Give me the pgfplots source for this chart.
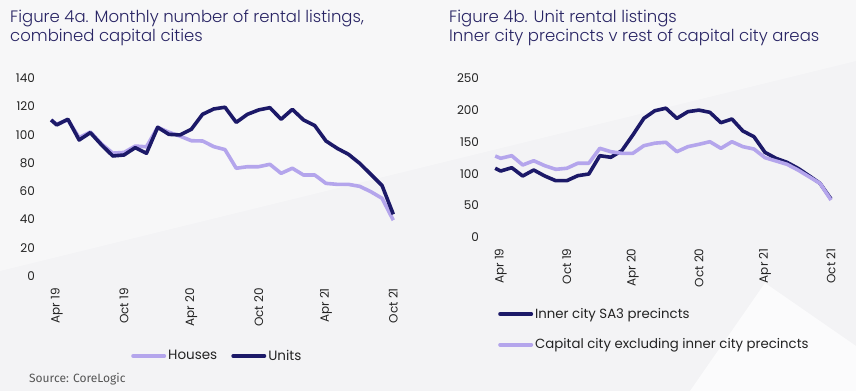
\documentclass[border=0pt]{standalone}
\usepackage{fontspec}
\setmainfont{Poppins}
\newfontfamily\titlefont{Poppins Light}
\newfontfamily\srcfont{Fira Sans}
\usepackage{pgfplots}
\pgfplotsset{compat=1.18}
\definecolor{bg}{RGB}{243,243,245}
\definecolor{navy}{RGB}{28,25,104}
\definecolor{lilac}{RGB}{180,165,236}
\definecolor{titlec}{RGB}{40,36,100}
\definecolor{txt}{RGB}{35,35,35}

\pgfplotstableread{
x houses units
-0.5 110.5 110.5
0 107.5 107
1 110.5 111
2 98 96.3
3 102 101.5
4 93.5 92.8
5 87 85
6 87.5 85.7
7 92 90.9
8 91.5 86.9
9 105.3 105.3
10 101.8 100.3
11 99 99.9
12 95.8 103.9
13 95.6 114.5
14 91.6 118.3
15 89.5 119.5
16 76.3 108.8
17 77.4 114.5
18 77.4 117.6
19 79.1 119.2
20 72.7 111
21 76.3 118
22 71.5 110.5
23 71.5 106.5
24 65.6 95.6
25 64.9 90.4
26 64.9 86.2
27 63.5 79.8
28 59.7 72
29 55 64
30 39.5 43.7
}\lefttable

\pgfplotstableread{
x inner capital
-0.5 108.5 127.8
0 104.2 124.2
1 109.4 128.3
2 96.4 113.7
3 105.8 120.4
4 96.4 112.6
5 89 106.9
6 89 108.5
7 96.9 116.4
8 99.5 116.4
9 128.3 139.9
10 125.8 134.6
11 136.2 132
12 160.8 132
13 187 144
14 199 148
15 203 149.4
16 187 134.6
17 197.5 142.5
18 200 146.2
19 196.5 150.3
20 180.2 139.9
21 186 150.3
22 167.1 142.5
23 158.2 138.8
24 133.6 125.2
25 124.2 120
26 117.9 114.8
27 108.5 105.8
28 96.9 95.3
29 84.9 84.9
30 60.2 58.6
}\righttable

\pgfplotsset{
  common/.style={
    scale only axis, clip=false,
    axis line style={draw=none},
    tick style={draw=none},
    xmin=-0.5, xmax=30,
    xtick={0,6,12,18,24,30},
    xticklabels={Apr 19, Oct 19, Apr 20, Oct 20, Apr 21, Oct 21},
    xticklabel style={rotate=90, anchor=east,
      font=\fontsize{12}{12}\selectfont, text=txt},
    yticklabel style={anchor=east, inner xsep=0pt, xshift=-16pt,
      font=\fontsize{12}{12}\selectfont, text=txt},
    /pgf/number format/assume math mode=true,
    legend cell align=left,
    legend image code/.code={\draw[##1, line width=4pt, line cap=round] (1.5pt,0pt) -- (32.5pt,0pt);},
    every axis plot/.append style={line width=3.6pt, line join=round, mark=none},
  },
}

\begin{document}
\begin{tikzpicture}
\fill[bg] (0pt,0pt) rectangle (856pt,391pt);
\fill[white, opacity=0.35] (0pt,120pt) -- (856pt,330pt) -- (856pt,391pt) -- (0pt,391pt) -- cycle;
\fill[white, opacity=0.7] (690pt,0pt) -- (765pt,108pt) -- (856pt,45pt) -- (856pt,0pt) -- cycle;
\path[use as bounding box] (0pt,0pt) rectangle (856pt,391pt);

% titles
\node[anchor=base west, inner sep=0pt, text=titlec, font=\titlefont\fontsize{16.5}{16.5}\selectfont] at (10pt,368.5pt) {Figure 4a. Monthly number of rental listings,};
\node[anchor=base west, inner sep=0pt, text=titlec, font=\titlefont\fontsize{16.5}{16.5}\selectfont] at (10pt,349pt) {combined capital cities};
\node[anchor=base west, inner sep=0pt, text=titlec, font=\titlefont\fontsize{16.5}{16.5}\selectfont] at (449pt,368.5pt) {Figure 4b. Unit rental listings};
\node[anchor=base west, inner sep=0pt, text=titlec, font=\titlefont\fontsize{16.5}{16.5}\selectfont] at (449pt,349pt) {Inner city precincts v rest of capital city areas};

\begin{axis}[common,
  at={(51.1pt,115pt)}, anchor=south west,
  width=342.2pt, height=197.7pt,
  ymin=0, ymax=140, ytick={0,20,...,140},
  xticklabel style={inner xsep=12pt},
  legend columns=2,
  legend style={draw=none, fill=none, at={(0.2335,-0.4045)}, anchor=west,
    inner sep=0pt, font=\fontsize{13.5}{13.5}\selectfont, text=txt,
    nodes={inner xsep=2pt, inner ysep=0pt},
    /tikz/every even column/.append style={column sep=12pt}},
]
\addplot[lilac] table[x=x, y=houses] {\lefttable};
\addlegendentry{Houses}
\addplot[navy] table[x=x, y=units] {\lefttable};
\addlegendentry{Units}
\end{axis}

\begin{axis}[common,
  at={(495.2pt,153.7pt)}, anchor=south west,
  width=335.8pt, height=159pt,
  ymin=0, ymax=250, ytick={0,50,...,250},
  xticklabel style={inner xsep=11pt},
  legend columns=1,
  legend style={draw=none, fill=none, at={(0.0083,-0.4447)}, anchor=north west,
    inner sep=0pt, font=\fontsize{13.3}{13.3}\selectfont, text=txt, row sep=19pt,
    nodes={inner xsep=2pt, inner ysep=0pt}},
]
\addplot[navy] table[x=x, y=inner] {\righttable};
\addlegendentry{Inner city SA3 precincts}
\addplot[lilac] table[x=x, y=capital] {\righttable};
\addlegendentry{Capital city excluding inner city precincts}
\end{axis}

\node[anchor=base west, inner sep=0pt, text={rgb,255:red,85;green,85;blue,85}, font=\srcfont\fontsize{12}{12}\selectfont] at (29pt,9pt) {Source: CoreLogic};
\end{tikzpicture}
\end{document}
